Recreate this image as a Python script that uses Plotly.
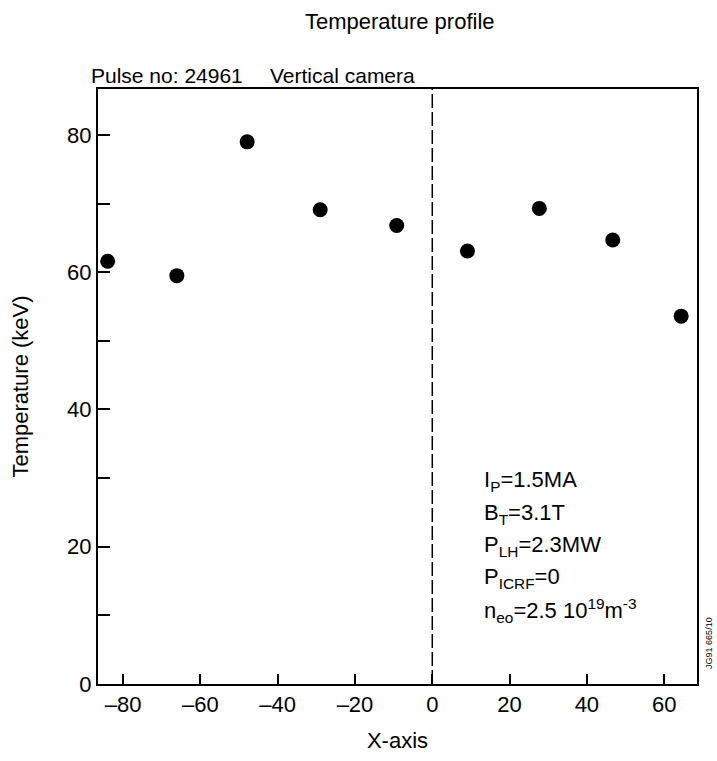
import plotly.graph_objects as go

x_pos = [-84.0, -66.1, -47.9, -29.0, -9.2, 9.1, 27.7, 46.7, 64.4]
temperature = [61.6, 59.5, 79.0, 69.1, 66.8, 63.1, 69.3, 64.7, 53.6]

x_ticks = [-80, -60, -40, -20, 0, 20, 40, 60]
y_ticks = [0, 20, 40, 60, 80]

params = [
    "I<sub>P</sub>=1.5MA",
    "B<sub>T</sub>=3.1T",
    "P<sub>LH</sub>=2.3MW",
    "P<sub>ICRF</sub>=0",
    "n<sub>eo</sub>=2.5 10<sup>19</sup>m<sup>-3</sup>",
]

W, H = 717, 761
L, R, T, B = 98, 20, 89, 64
pw, ph = W - L - R, H - T - B

def px(x):
    return (x - L) / pw

def py(y):
    return (H - B - y) / ph

FONT = "Liberation Sans, Arial, sans-serif"

fig = go.Figure()
fig.add_trace(go.Scatter(
    x=x_pos, y=temperature, mode="markers",
    marker=dict(color="black", size=15),
    showlegend=False, hoverinfo="skip",
))

fig.add_shape(type="line", xref="x", yref="paper", x0=0, x1=0, y0=0, y1=1,
              line=dict(color="black", width=1.5, dash="14px,4px"))

annotations = [
    dict(text="Temperature profile", x=px(400), y=py(20), xanchor="center", yanchor="middle",
         font=dict(size=22)),
    dict(text="Pulse no: 24961", x=px(89), y=py(75), xanchor="left", yanchor="middle",
         font=dict(size=21)),
    dict(text="Vertical camera", x=px(268), y=py(75), xanchor="left", yanchor="middle",
         font=dict(size=21)),
    dict(text="JG91 665/10", x=px(709), y=py(655), xanchor="center", yanchor="middle",
         textangle=-90, font=dict(size=9)),
]
line_y = [490, 523, 556, 589, 622]
for t, ly in zip(params, line_y):
    annotations.append(dict(text=t, x=px(482), y=py(ly), xanchor="left", yanchor="middle",
                            font=dict(size=22)))
for a in annotations:
    a.update(xref="paper", yref="paper", showarrow=False)
    a["font"]["family"] = FONT
    a["font"]["color"] = "black"

fig.update_layout(
    width=W, height=H,
    margin=dict(l=L, r=R, t=T, b=B),
    paper_bgcolor="white", plot_bgcolor="white",
    font=dict(family=FONT, color="black", size=22),
    annotations=annotations,
    xaxis=dict(
        range=[-86.5, 68.5], tickvals=x_ticks, ticktext=[str(v).replace("-", "\u2013") for v in x_ticks],
        ticks="inside", ticklen=10, tickwidth=1.5, tickcolor="black",
        showline=True, linecolor="black", linewidth=2, mirror=True,
        showgrid=False, zeroline=False,
        title=dict(text="X-axis", font=dict(size=22), standoff=16),
        tickfont=dict(size=22),
    ),
    yaxis=dict(
        range=[0, 86.7], tickvals=y_ticks,
        ticks="inside", ticklen=12, tickwidth=1.5, tickcolor="black",
        minor=dict(tickvals=[10, 30, 50, 70], ticks="inside", ticklen=12, tickwidth=1.5, tickcolor="black"),
        showline=True, linecolor="black", linewidth=2, mirror=True,
        showgrid=False, zeroline=False,
        title=dict(text="Temperature (keV)", font=dict(size=22), standoff=32),
        tickfont=dict(size=22),
    ),
)

fig.write_html("out.html")
